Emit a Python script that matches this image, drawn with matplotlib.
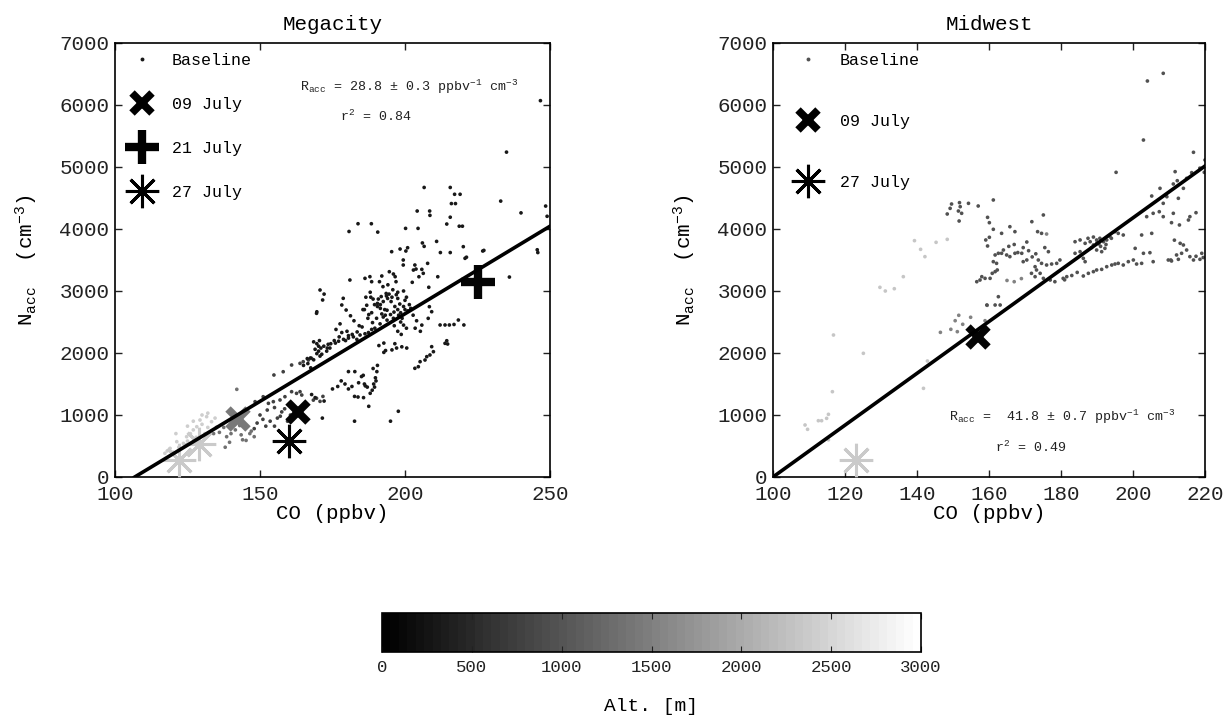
import matplotlib
matplotlib.use("Agg")
import matplotlib.pyplot as plt
import numpy as np
from matplotlib.colors import Normalize
from matplotlib.cm import ScalarMappable
from matplotlib.lines import Line2D

plt.rcParams['font.family'] = ['Liberation Mono', 'DejaVu Sans Mono']
plt.rcParams['mathtext.default'] = 'regular'
plt.rcParams['mathtext.fontset'] = 'custom'
plt.rcParams['mathtext.rm'] = 'Liberation Mono'

# ---------------- Megacity data (CO ppbv, N_acc cm-3) ----------------
mega_dark_co = [246.7, 235, 233, 240, 248.5, 249, 245.6, 245.8, 236, 227.2, 221.2,
                206.6, 215.6, 217.1, 219, 216, 217.4, 204.2, 208.5, 208.6, 215.6, 214.4, 218.7, 219.8,
                180.7, 183.8, 188.4, 190.6, 200.2, 204.5,
                210.9, 206, 206.6, 212.2, 215.6, 220.1, 226.8, 220.7,
                195.4, 198.3, 200.3, 200.9, 199.4, 199.4,
                203.4, 202.9, 203.8, 205.8, 206.3, 207.8, 204.8, 202.5,
                192, 194.6, 196, 196.6, 181, 186.2, 187.9, 188.5,
                191.2, 192.4, 194.1, 196.9,
                197.5, 199.5, 200.5, 200, 197.5, 195.5, 194, 192.5, 191.5, 190.5,
                186.5, 188, 189,
                178.7, 178.2, 179.7, 170.7, 171.6, 172.1, 169.6,
                186, 187.5, 188.5, 189.5, 190.5, 191.5, 192, 193, 193.8, 192.5, 193.8, 195, 196, 196.5,
                197.5, 198.5, 199.5, 200, 201, 202, 198.5, 199.5, 200.5, 197.5,
                169.5, 177.6, 176.2, 178.2, 180, 180.5,
                208.4, 209.2, 208,
                212.1, 213.8, 215.3, 216.9, 220.3, 218.4,
                203.5, 205.8, 205.3,
                196.5, 198.9, 200.6, 197.1, 195.5, 193.3, 192.7, 191, 192.7,
                214.4, 213.8, 214.7,
                209.2, 209.8, 208.6, 207.5, 206.9, 205.2, 204.6, 203.4,
                168.5, 169.6, 170.2, 169, 170.2, 169.6, 170.7, 168.5, 167.4, 166.3, 170.5, 171,
                172, 173.5, 174.1, 173, 176, 177.1, 178.8, 180.5, 182.2, 183.4, 184.5, 186.2, 187.4, 188.5,
                180.5, 182.7, 185, 185.6, 189,
                165, 166.5, 167.5,
                188.7, 189.2, 189.8, 190.3, 190.5, 189.5, 190, 188, 187, 186,
                175, 176.8, 178, 179.3, 180.5, 181.7, 182.6, 183.8, 185.7, 186.3, 184,
                182.6, 195, 197.7, 187.5,
                167.8, 169, 172.1, 171.5,
                194.5, 195.8, 197, 198.2, 196.2, 193.5, 191.8, 190.2, 188.8, 187.2,
                189.6, 191.4, 193.2, 195.2, 197.8, 199, 201.5, 202.8, 204, 185.2,
                183.5, 181.8, 179.5, 177.3, 175.6, 174.4, 173.2, 171.3, 185.5, 182.4,
                190.8, 193.6, 196.3, 198.7, 188.2, 186.8, 184.2, 181.2, 208.2, 211.3]
mega_dark_n = [6070, 5240, 4450, 4260, 4370, 4205, 3665, 3620, 3225, 3655, 3545,
               4670, 4670, 4560, 4560, 4410, 4410, 4290, 4290, 4220, 4190, 4080, 4045, 4045,
               3960, 4085, 4085, 3950, 4010, 4010,
               3800, 3775, 3720, 3620, 3620, 3715, 3645, 3527,
               3634, 3677, 3645, 3698, 3500, 3419,
               3419, 3338, 3354, 3349, 3285, 3446, 3230, 3140,
               3242, 3311, 3274, 3231, 3177, 3204, 3231, 3150,
               3150, 3070, 3100, 3150,
               2980, 3000, 2900, 2850, 2880, 2900, 2880, 2830, 2780, 2800,
               2900, 2980, 2870,
               2882, 2774, 2693, 3016, 2855, 2950, 2665,
               2700, 2620, 2650, 2780, 2750, 2720, 2630, 2700, 2690, 2580, 2530, 2620, 2560, 2750,
               2700, 2650, 2750, 2700, 2680, 2720, 2500, 2450, 2400, 2350,
               2640, 2470, 2380, 2330, 2350, 2280,
               2747, 2666, 2559,
               2452, 2452, 2452, 2460, 2452, 2532,
               2400, 2450, 2350,
               2150, 2100, 2080, 2080, 2050, 2040, 2010, 2120, 2160,
               2198, 2156, 2145,
               2102, 2021, 1968, 1941, 1887, 1860, 1779, 1753,
               2180, 2150, 2110, 2060, 2030, 1990, 1950, 1890, 1920, 1910, 2200, 2080,
               2110, 2140, 2080, 2030, 2160, 2190, 2220, 2240, 2260, 2220, 2290, 2310, 2330, 2380,
               1700, 1700, 1620, 1640, 1750,
               1800, 1830, 1760,
               1400, 1500, 1600, 1700, 1800, 1450, 1550, 1350, 1450, 1500,
               1420, 1460, 1550, 1500, 1420, 1460, 1300, 1290, 1280, 1470, 1520,
               900, 900, 1060, 1140,
               1330, 1280, 1225, 950,
               2950, 3020, 2940, 2790, 2660, 2960, 2910, 2560, 2490, 2560,
               2400, 2470, 2610, 2830, 2610, 2560, 2780, 2610, 2520, 2420,
               2340, 2300, 2200, 2260, 2200, 2150, 2080, 1980, 2700, 2520,
               2870, 2920, 2440, 2300, 2900, 2770, 2440, 2600, 3060, 3230]
mega_dark_alt = 300

mega_mid_co = [160.9, 163.8, 164.9, 166.7, 167.8, 158, 154.8,
               148.3, 151.1, 152.9, 154.6, 156.9, 158.6, 160.9, 162.6, 163.8, 164.4,
               168.4, 169.5, 170.7, 171.7,
               150, 151, 152.5, 153.5, 155, 156, 157.5, 158.5, 159.5, 152, 149, 148, 155, 157, 160.5, 161.5]
mega_mid_n = [1806, 1833, 1860, 1887, 1914, 1698, 1645,
              1215, 1295, 1188, 1215, 1242, 1295, 1376, 1349, 1376, 1322,
              1240, 1270, 1220, 1300,
              1000, 930, 1080, 900, 1120, 950, 1050, 1100, 900, 820, 870, 780, 820, 980, 1000, 940]
mega_mid_alt = 750

mega_gray_co = [136, 137.5, 138.5, 140, 141.5, 143, 144, 145, 146.5, 145.2, 138, 139.5, 142,
                147, 148, 135, 134, 140, 143.5]
mega_gray_n = [720, 800, 650, 860, 760, 830, 600, 820, 700, 590, 480, 560, 1414,
               740, 650, 800, 700, 700, 680]
mega_gray_alt = 1350

mega_light_co = [129.3, 131.6, 133.3, 128.2, 124.7, 123.6, 121.3, 119, 117.2, 126, 127, 130,
                 132, 125, 122, 120, 118, 134.5, 128, 131, 127, 130, 132, 125, 121]
mega_light_n = [919, 973, 892, 811, 650, 543, 570, 462, 382, 700, 760, 850,
                800, 580, 480, 400, 420, 950, 640, 700, 900, 1000, 1030, 820, 700]
mega_light_alt = 2400

# Megacity flight-day markers (CO, N, altitude)
mega_0709_co = [163, 142.5]
mega_0709_n = [1050, 930]
mega_0709_alt = [50, 1450]
mega_0721_co = [225]
mega_0721_n = [3150]
mega_0721_alt = [50]
mega_0727_co = [160, 122, 129]
mega_0727_n = [580, 280, 530]
mega_0727_alt = [50, 2350, 2350]

mega_fit_co = [106.8, 250]
mega_fit_n = [0, 4045]

# ---------------- Midwest data ----------------
mid_main_co = [208.4, 204, 202.9, 195.3, 216.8, 220, 218.6, 216.3, 219.8,
               211.7, 212.3, 214.9, 214, 211.2, 207.5, 205.2, 209.4, 208.4, 207.3, 205.6, 203.8, 208.4,
               211.2, 212.6, 215.8, 217.5, 215.4, 210.7, 212.9, 205.2, 202.4,
               183.9, 185.3, 186.7, 188.1, 189, 189.9, 190.8, 191.8, 192.7, 193.6, 195, 195.9, 197.3,
               189.9, 191.3, 192.2, 185.3, 186.2, 183.9, 186.7, 188.5, 190.5, 191, 192.5, 194, 187.5, 189, 190,
               194.1, 195, 195.9, 197.3, 198.7, 200.1, 201, 202.4, 200.6, 202.9, 204.7, 205.6, 209.8, 210.7,
               212.6, 213.5, 213.1, 214, 214.9, 215.8, 216.8, 218.6, 219.1, 212.1, 219.5, 217.5, 211.5, 210.5,
               192.7, 191.3, 189.9, 189, 187.6, 186.2, 184.5, 183, 181,
               179.7, 178.8, 177.4, 176, 174.6, 173.7, 172.8, 173.2, 171.8, 172.8, 174.2, 175.1, 177, 178.3,
               180.6, 181.6, 170.5, 169.5, 169.1, 167.2, 165.8, 164.9, 164, 163.5,
               172, 173, 171, 175.5, 176.5, 168, 169.5, 170.5, 167, 165.5,
               156.6, 157.5, 158, 158.9, 160.3, 160.9, 161.7, 162.3, 161.2, 162.1, 161.7, 162.6,
               159.1, 160.1, 159.6, 161.2, 159.6, 160.1, 157,
               148.4, 149.2, 149.6, 151.8, 152, 152.4, 151.5, 154.3, 151.7, 161.2,
               167.2, 165.8, 163.5, 171.9, 175.1, 173.5, 174.6,
               161.7, 163.1, 159.4, 162.6]
mid_main_n = [6511, 6387, 5435, 4914, 5237, 5113, 4979, 4909, 4914,
              4925, 4779, 4817, 4656, 4726, 4656, 4532, 4521, 4414, 4279, 4253, 4199, 4199,
              4253, 4495, 4199, 4263, 4145, 4102, 4065, 3930, 3903,
              3795, 3823, 3769, 3795, 3742, 3823, 3850, 3795, 3823, 3876, 3957, 3930, 3903,
              3661, 3634, 3688, 3634, 3527, 3608, 3473, 3700, 3760, 3720, 3750, 3850, 3850, 3870, 3780,
              3419, 3435, 3446, 3419, 3473, 3500, 3435, 3446, 3688, 3608, 3618, 3473, 3500, 3484,
              3511, 3608, 3769, 3742, 3661, 3554, 3500, 3511, 3608, 3581, 3540, 3560, 3820, 3500,
              3392, 3349, 3339, 3312, 3285, 3242, 3300, 3250, 3180,
              3500, 3446, 3435, 3419, 3446, 3500, 3392, 3339, 3285, 3231, 3285, 3204, 3177, 3150,
              3204, 3231, 3500, 3473, 3608, 3608, 3554, 3581, 3661, 3608,
              3550, 3600, 3650, 3700, 3634, 3620, 3700, 3790, 3750, 3720,
              3150, 3177, 3231, 3204, 3204, 3285, 3312, 3339, 3473, 3446, 3581, 3608,
              3823, 3866, 3726, 3995, 4188, 4102, 4371,
              4242, 4333, 4403, 4425, 4360, 4253, 4290, 4414, 4129, 4468,
              3957, 4037, 3930, 4118, 4226, 3957, 3930,
              2774, 2774, 2774, 2908]
mid_main_alt = 950

mid_mid_co = [146.5, 149.4, 150.6, 151.6, 152.7, 151.2, 154.9, 158.9, 159.5, 176, 167, 165, 169]
mid_mid_n = [2333, 2382, 2521, 2608, 2463, 2344, 2576, 2521, 2769, 3919, 3150, 3170, 3200]
mid_mid_alt = 1500

mid_light_co = [139.3, 141, 142.2, 145.3, 148.4, 136.2, 129.7, 131.2, 133.7, 116.8, 125.1, 116.5,
                141.8, 142.9, 108.9, 109.6, 112.6, 113.5, 114.9, 115.4, 115.4]
mid_light_n = [3812, 3672, 3554, 3785, 3833, 3231, 3059, 3000, 3037, 2290, 1995, 1376,
               1430, 1871, 839, 769, 908, 908, 946, 1011, 600]
mid_light_alt = 2300

mid_0709_co = [157]
mid_0709_n = [2260]
mid_0709_alt = [50]
mid_0727_co = [123]
mid_0727_n = [272]
mid_0727_alt = [2350]

mid_fit_co = [100, 220]
mid_fit_n = [0, 5016]

# ---------------- figure ----------------
cmap = plt.get_cmap('gray', 64)
norm = Normalize(0, 3000)

W, H = 1226, 715
fig = plt.figure(figsize=(W / 100, H / 100), dpi=100)
ax1 = fig.add_axes([115 / W, 1 - 477 / H, 435 / W, 434 / H])
ax2 = fig.add_axes([773 / W, 1 - 477 / H, 432 / W, 434 / H])
cax = fig.add_axes([382 / W, 1 - 652 / H, 539 / W, 39 / H])

X_KW = dict(marker='x', ms=15, mew=5.5)
P_KW = dict(marker='+', ms=24, mew=6)
A_KW = dict(marker=(8, 2, 0), ms=24, mew=2.2)


def dots(ax, co, n, alt):
    ax.scatter(co, n, c=np.full(len(co), alt, dtype=float), cmap=cmap, norm=norm,
               s=7, marker='o', linewidths=0, zorder=2)


def special(ax, co, n, alts, kw):
    for x, y, a in zip(co, n, alts):
        ax.plot([x], [y], ls='none', color=cmap(norm(a)), zorder=3, **kw)


# Megacity
dots(ax1, mega_light_co, mega_light_n, mega_light_alt)
dots(ax1, mega_gray_co, mega_gray_n, mega_gray_alt)
dots(ax1, mega_mid_co, mega_mid_n, mega_mid_alt)
dots(ax1, mega_dark_co, mega_dark_n, mega_dark_alt)
special(ax1, mega_0709_co, mega_0709_n, mega_0709_alt, X_KW)
special(ax1, mega_0721_co, mega_0721_n, mega_0721_alt, P_KW)
special(ax1, mega_0727_co, mega_0727_n, mega_0727_alt, A_KW)
ax1.plot(mega_fit_co, mega_fit_n, color='k', lw=2.6, zorder=4)

# Midwest
dots(ax2, mid_light_co, mid_light_n, mid_light_alt)
dots(ax2, mid_mid_co, mid_mid_n, mid_mid_alt)
dots(ax2, mid_main_co, mid_main_n, mid_main_alt)
special(ax2, mid_0709_co, mid_0709_n, mid_0709_alt, X_KW)
special(ax2, mid_0727_co, mid_0727_n, mid_0727_alt, A_KW)
ax2.plot(mid_fit_co, mid_fit_n, color='k', lw=2.6, zorder=4)

for ax, xlim, xt, title in [(ax1, (100, 250), [100, 150, 200, 250], 'Megacity'),
                            (ax2, (100, 220), [100, 120, 140, 160, 180, 200, 220], 'Midwest')]:
    ax.set_xlim(*xlim)
    ax.set_ylim(0, 7000)
    ax.set_xticks(xt)
    ax.set_yticks(range(0, 7001, 1000))
    ax.tick_params(direction='in', top=True, right=True, length=5, width=1,
                   labelsize=15, colors='#222222')
    ax.tick_params(axis='x', pad=6)
    ax.tick_params(axis='y', pad=4)
    for s in ax.spines.values():
        s.set_linewidth(1.2)
    ax.set_title(title, fontsize=15, pad=9)
    ax.set_xlabel('CO (ppbv)', fontsize=15, labelpad=0)
    ax.set_ylabel(r'N$_{acc}$  (cm$^{-3}$)', fontsize=15, labelpad=14)

# legends
base1 = Line2D([], [], ls='none', marker='o', ms=2.8, mew=0, color=cmap(norm(mega_dark_alt)))
base2 = Line2D([], [], ls='none', marker='o', ms=2.8, mew=0, color=cmap(norm(mid_main_alt)))
hx = Line2D([], [], ls='none', color='k', **X_KW)
hp = Line2D([], [], ls='none', color='k', **P_KW)
ha = Line2D([], [], ls='none', color='k', **A_KW)

ax1.legend([base1, hx, hp, ha], ['Baseline', '09 July', '21 July', '27 July'],
           loc='upper left', bbox_to_anchor=(0.031, 0.978), frameon=False, fontsize=12,
           handlelength=1.6, handletextpad=1.0, labelspacing=1.75, borderpad=0, borderaxespad=0)
ax2.legend([base2, hx, ha], ['Baseline', '09 July', '27 July'],
           loc='upper left', bbox_to_anchor=(0.05, 0.978), frameon=False, fontsize=12,
           handlelength=1.6, handletextpad=1.1, labelspacing=2.77, borderpad=0, borderaxespad=0)

# fit annotations
ax1.text(0.425, 0.898, r'R$_{acc}$ = 28.8 $\pm$ 0.3 ppbv$^{-1}$ cm$^{-3}$', transform=ax1.transAxes,
         fontsize=9.6, va='center', ha='left', color='#222222')
ax1.text(0.517, 0.832, r'r$^{2}$ = 0.84', transform=ax1.transAxes,
         fontsize=9.6, va='center', ha='left', color='#222222')
ax2.text(0.4075, 0.139, r'R$_{acc}$ =  41.8 $\pm$ 0.7 ppbv$^{-1}$ cm$^{-3}$', transform=ax2.transAxes,
         fontsize=9.6, va='center', ha='left', color='#222222')
ax2.text(0.513, 0.068, r'r$^{2}$ = 0.49', transform=ax2.transAxes,
         fontsize=9.6, va='center', ha='left', color='#222222')

# colorbar
cb = fig.colorbar(ScalarMappable(norm=norm, cmap=cmap), cax=cax, orientation='horizontal',
                  ticks=list(range(0, 3001, 500)))
cb.outline.set_linewidth(1.2)
cax.tick_params(direction='in', length=4, width=0.8, top=True, bottom=True,
                labelsize=12.5, pad=6, colors='#222222')
cb.set_label('Alt. [m]', fontsize=14, labelpad=16)

fig.savefig('out.png', dpi=100)
